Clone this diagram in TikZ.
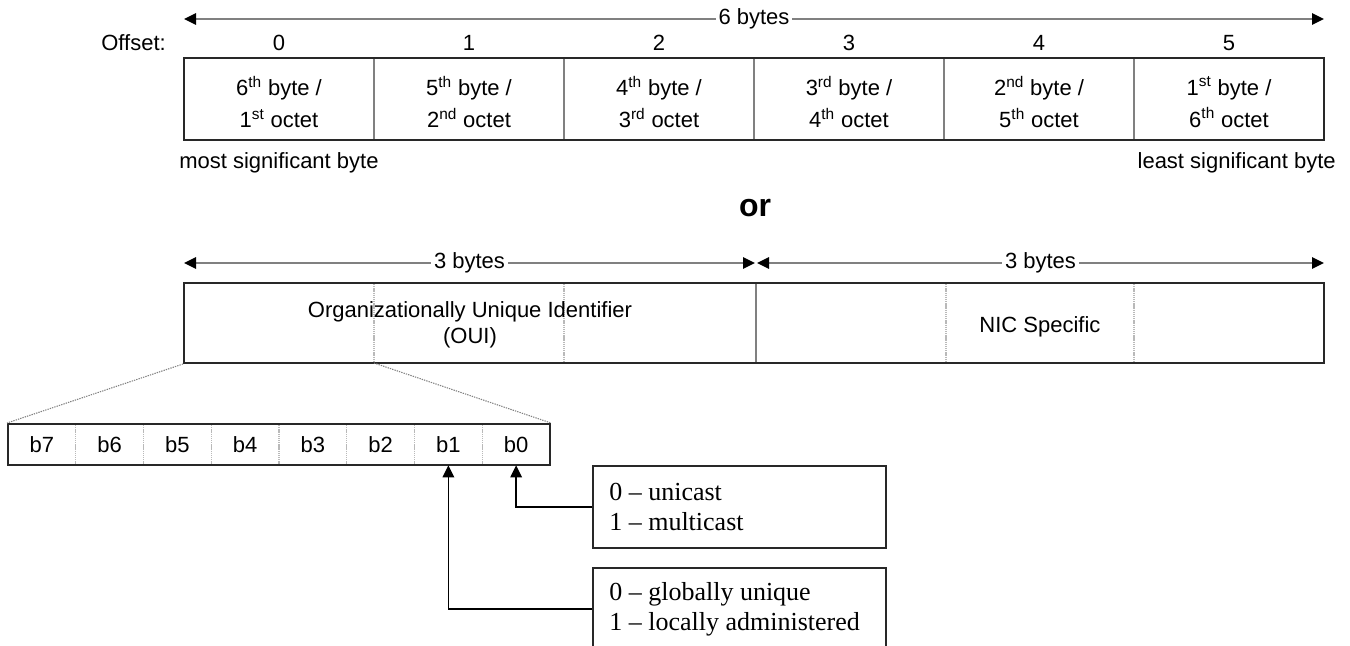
\documentclass[tikz,border=0pt]{standalone}
\usepackage{fontspec}
\setmainfont{Liberation Sans}
\newfontfamily\serifface{Liberation Serif}
\usetikzlibrary{arrows.meta}

\definecolor{edge}{RGB}{40,40,40}
\definecolor{divgrey}{RGB}{128,128,128}
\definecolor{lightgrid}{RGB}{185,185,185}

\begin{document}
\begin{tikzpicture}[x=0.75pt,y=-0.75pt,
  lbl/.style={font=\fontsize{16.5pt}{24pt}\selectfont, inner sep=0pt, align=center},
  frame/.style={draw=edge, line width=1.5pt, inner sep=0pt},
  divider/.style={draw=divgrey, line width=1.5pt},
  finegrid/.style={draw=lightgrid, line width=0.8pt, dash pattern=on 1pt off 0.6pt},
  zoomline/.style={draw=divgrey, line width=0.8pt, dash pattern=on 1pt off 0.8pt},
  tip/.tip={Triangle[length=9pt,width=8.5pt,color=black]},
  dim/.style={draw=divgrey, line width=1.5pt, tip-tip},
  dimlbl/.style={lbl, fill=white, inner xsep=2pt, inner ysep=1pt},
  bitcell/.style={lbl, minimum width=67.75*0.75pt, minimum height=41*0.75pt},
  infobox/.style={draw=edge, line width=1.2pt, anchor=north west, inner sep=0pt,
    minimum width=293*0.75pt, minimum height=82*0.75pt},
  infotext/.style={anchor=west, inner sep=0pt, align=left,
    font=\serifface\fontsize{19.5pt}{22.5pt}\selectfont},
  conn/.style={draw=black, line width=1.2pt, -tip}
]
\useasboundingbox (0,0) rectangle (1350,646);
\clip (0,0) rectangle (1350,646);

% ---------- six-byte address with offsets ----------
\coordinate (d6l) at (184,19);
\coordinate (d6r) at (1324,19);
\draw[dim] (d6l) -- node[dimlbl] (d6lbl) {6 bytes} (d6r);

\node[lbl, anchor=east] (offlbl) at (166,43) {Offset:};

\foreach \i/\top/\bot in {0/{6\textsuperscript{th} byte /}/{1\textsuperscript{st} octet},
                          1/{5\textsuperscript{th} byte /}/{2\textsuperscript{nd} octet},
                          2/{4\textsuperscript{th} byte /}/{3\textsuperscript{rd} octet},
                          3/{3\textsuperscript{rd} byte /}/{4\textsuperscript{th} octet},
                          4/{2\textsuperscript{nd} byte /}/{5\textsuperscript{th} octet},
                          5/{1\textsuperscript{st} byte /}/{6\textsuperscript{th} octet}} {
  \node[lbl] (off\i) at (279+190*\i,43) {\i};
  \node[lbl] (cell\i) at (279+190*\i,102) {\top\\\bot};
}
\foreach \k in {1,...,5}
  \draw[divider] (184+190*\k,58) -- (184+190*\k,140);
\node[frame, minimum width=1140*0.75pt, minimum height=82*0.75pt] (row) at (754,99) {};

\node[lbl, anchor=west] (msb) at (179,163) {most significant byte};
\node[lbl, anchor=east] (lsb) at (1336,163) {least significant byte};

\node[inner sep=0pt, font=\bfseries\fontsize{24pt}{28pt}\selectfont] (orlbl) at (755,208) {or};

% ---------- OUI / NIC split ----------
\coordinate (d3a) at (184,263);
\coordinate (d3b) at (755,263);
\coordinate (d3c) at (757,263);
\coordinate (d3d) at (1324,263);
\draw[dim] (d3a) -- node[dimlbl] (ouibytes) {3 bytes} (d3b);
\draw[dim] (d3c) -- node[dimlbl] (nicbytes) {3 bytes} (d3d);

\foreach \x in {374,564,946,1134}
  \draw[finegrid] (\x,284) -- (\x,362);
\draw[divider] (756,283) -- (756,363);
\node[frame, minimum width=1140*0.75pt, minimum height=80*0.75pt] (addr) at (754,323) {};
\node[lbl, font=\fontsize{16.5pt}{19.5pt}\selectfont] (oui) at (470,325)
  {Organizationally Unique Identifier\\(OUI)};
\node[lbl] (nic) at (1040,327) {NIC Specific};

% ---------- bits of the first octet ----------
\foreach \j in {1,...,7}
  \draw[finegrid] (8+67.75*\j,425) -- (8+67.75*\j,464);
\foreach \b [evaluate=\b as \c using 7-\b] in {7,6,5,4,3,2,1,0}
  \node[bitcell] (b\b) at (8+67.75*\c+33.875,444.5) {b\b};
\node[frame, minimum width=542*0.75pt, minimum height=41*0.75pt] (bits) at (279,444.5) {};

\coordinate (ouicut) at (374,363);
\draw[zoomline] (addr.south west) -- (bits.north west);
\draw[zoomline] (ouicut) -- (bits.north east);

% ---------- meaning of b0 and b1 ----------
\node[infobox] (uni) at (592,465) {};
\node[infotext] (unitxt) at (609,507) {0 \textendash\ unicast\\1 \textendash\ multicast};
\node[infobox] (adm) at (592,567) {};
\node[infotext] (admtxt) at (609,609) {0 \textendash\ globally unique\\1 \textendash\ locally administered};
\draw[conn] (uni.west) -| (b0.south);
\draw[conn] (adm.west) -| (b1.south);
\end{tikzpicture}
\end{document}
